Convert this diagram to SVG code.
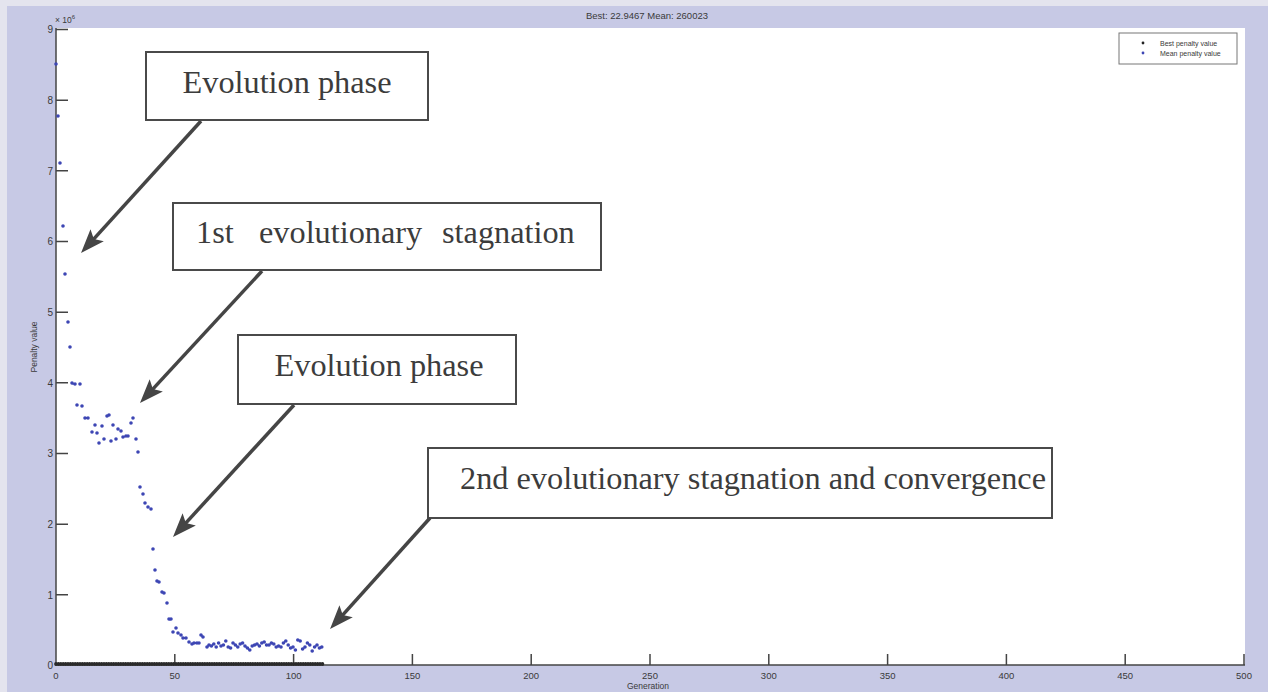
<svg xmlns="http://www.w3.org/2000/svg" width="1268" height="692" viewBox="0 0 1268 692">
<style>
.ax{font-family:"Liberation Sans",Arial,sans-serif;fill:#3a3a3a}
.yt{font-size:10px;text-anchor:end}
.xt{font-size:9.5px;text-anchor:middle}
.box{fill:#fff;stroke:#4a4a4a;stroke-width:2}
.lbl{font-family:"Liberation Serif","Times New Roman",serif;font-size:32.3px;fill:#3c3c3c}
.arr{stroke:#454545;stroke-width:3.5;fill:none;marker-end:url(#ah)}
.tick{stroke:#444;stroke-width:1.5}
</style>
<defs>
<marker id="ah" markerUnits="userSpaceOnUse" markerWidth="26" markerHeight="20" refX="16" refY="9" orient="auto">
<path d="M0,0 L24,9 L0,18 L5,9 Z" fill="#454545"/>
</marker>
</defs>
<rect x="0" y="0" width="1268" height="692" fill="#e4e4ee"/>
<rect x="7" y="6" width="1261" height="686" fill="#c7c9e5"/>
<rect x="56" y="28" width="1189" height="637" fill="#ffffff"/>
<g id="title"><text class="ax" x="647" y="19" font-size="9.5" text-anchor="middle">Best: 22.9467 Mean: 260023</text></g>
<g id="axes">
<line class="tick" x1="56" y1="28" x2="56" y2="665.5"/>
<line class="tick" x1="55.3" y1="665" x2="1245" y2="665"/>
<path class="tick" d="M56 29.5h12M56 100.2h12M56 170.8h12M56 241.5h12M56 312.2h12M56 382.8h12M56 453.5h12M56 524.2h12M56 594.8h12"/>
<path class="tick" d="M174.8 665v-11M293.6 665v-11M412.4 665v-11M531.2 665v-11M650 665v-11M768.8 665v-11M887.6 665v-11M1006.4 665v-11M1125.2 665v-11M1244 665v-11"/>
<text class="ax yt" x="53" y="33">9</text>
<text class="ax yt" x="53" y="104">8</text>
<text class="ax yt" x="53" y="174.5">7</text>
<text class="ax yt" x="53" y="245">6</text>
<text class="ax yt" x="53" y="316">5</text>
<text class="ax yt" x="53" y="386.5">4</text>
<text class="ax yt" x="53" y="457">3</text>
<text class="ax yt" x="53" y="528">2</text>
<text class="ax yt" x="53" y="598.5">1</text>
<text class="ax yt" x="53" y="669">0</text>
<text class="ax" x="55" y="23" font-size="8.5">× 10<tspan font-size="6" dy="-4">6</tspan></text>
<text class="ax xt" x="56" y="679">0</text>
<text class="ax xt" x="174.8" y="679">50</text>
<text class="ax xt" x="293.6" y="679">100</text>
<text class="ax xt" x="412.4" y="679">150</text>
<text class="ax xt" x="531.2" y="679">200</text>
<text class="ax xt" x="650" y="679">250</text>
<text class="ax xt" x="768.8" y="679">300</text>
<text class="ax xt" x="887.6" y="679">350</text>
<text class="ax xt" x="1006.4" y="679">400</text>
<text class="ax xt" x="1125.2" y="679">450</text>
<text class="ax xt" x="1244" y="679">500</text>
<text class="ax" x="648" y="689" font-size="8.5" text-anchor="middle">Generation</text>
<text class="ax" transform="translate(37,347) rotate(-90)" font-size="8.5" text-anchor="middle">Penalty value</text>
</g>
<g id="data">
<line x1="56" y1="664" x2="322.5" y2="664" stroke="#2a2a2a" stroke-width="3.8" stroke-linecap="round" stroke-dasharray="0 2.4"/>
<path fill="none" stroke="#3d46b4" stroke-width="3.6" stroke-linecap="round" d="M56 64h0M58 116h0M60 163h0M63 226h0M65 274h0M68 322h0M70 347h0M72 383h0M75 384h0M77 405h0M80 384h0M82 406h0M85 418h0M88 418h0M92 432h0M95 425h0M97 433h0M99 443h0M102 426h0M104 439h0M107 416h0M109 415h0M111 441h0M113 425h0M116 439h0M118 429h0M121 431h0M123 437h0M126 436h0M128 436h0M131 423h0M133 418h0M136 439h0M138 452h0M140 487h0M143 494h0M145 503h0M148 507h0M151 509h0M153 549h0M155 570h0M157 581h0M159 582h0M162 592h0M164 593h0M167 603h0M169 619h0M171 619h0M173 632h0M176 628h0M178 633h0M181 635h0M183 638h0M186 638h0M189 642h0M192 644h0M194 643h0M197 643h0M199 643h0M201 635h0M203 637h0M207 647h0M209 645h0M211.4 646h0M213.8 644h0M216.2 647h0M218.6 643h0M221 646h0M223.4 645h0M225.8 641h0M228.2 647h0M230.6 648h0M233 643h0M235.4 645h0M237.8 647h0M240.2 644h0M242.6 643h0M245 646h0M247.4 648h0M249.8 650h0M252.2 646h0M254.6 645h0M257 644h0M259.4 646h0M261.8 643h0M264.2 642h0M266.6 645h0M269 645h0M271.4 643h0M273.8 644h0M276.2 647h0M278.6 646h0M281 647h0M283.4 643h0M285.8 641h0M288.2 645h0M290.6 648h0M293 647h0M295.4 650h0M297.8 640h0M300.2 641h0M302.6 649h0M305 647h0M307.4 643h0M309.8 645h0M312.2 651h0M314.6 647h0M317 645h0M319.4 648h0M321.8 647h0"/>
</g>
<g id="legend">
<rect x="1119" y="33" width="118" height="31" fill="#fff" stroke="#777" stroke-width="1"/>
<circle cx="1143" cy="43" r="1.4" fill="#222"/>
<circle cx="1143" cy="53" r="1.4" fill="#3d46b4"/>
<text class="ax" x="1160" y="45.5" font-size="7">Best penalty value</text>
<text class="ax" x="1160" y="55.5" font-size="7">Mean penalty value</text>
</g>
<g id="box1">
<rect class="box" x="146" y="52" width="282" height="68"/>
<text class="lbl" x="287" y="93" text-anchor="middle">Evolution phase</text>
</g>
<g id="box2">
<rect class="box" x="173" y="203" width="428" height="67"/>
<text class="lbl" y="243"><tspan x="196">1st</tspan><tspan x="259">evolutionary</tspan><tspan x="442">stagnation</tspan></text>
</g>
<g id="box3">
<rect class="box" x="238" y="335" width="278" height="69"/>
<text class="lbl" x="379" y="376" text-anchor="middle">Evolution phase</text>
</g>
<g id="box4">
<rect class="box" x="428" y="448" width="624" height="70"/>
<text class="lbl" x="753" y="489" text-anchor="middle">2nd evolutionary stagnation and convergence</text>
</g>
<g id="connectors">
<line class="arr" x1="201" y1="121" x2="86.4" y2="247.1"/>
<line class="arr" x1="262" y1="271" x2="145.4" y2="397.1"/>
<line class="arr" x1="294" y1="405" x2="178.4" y2="531.1"/>
<line class="arr" x1="430" y1="518" x2="335.4" y2="623.1"/>
</g>
</svg>
